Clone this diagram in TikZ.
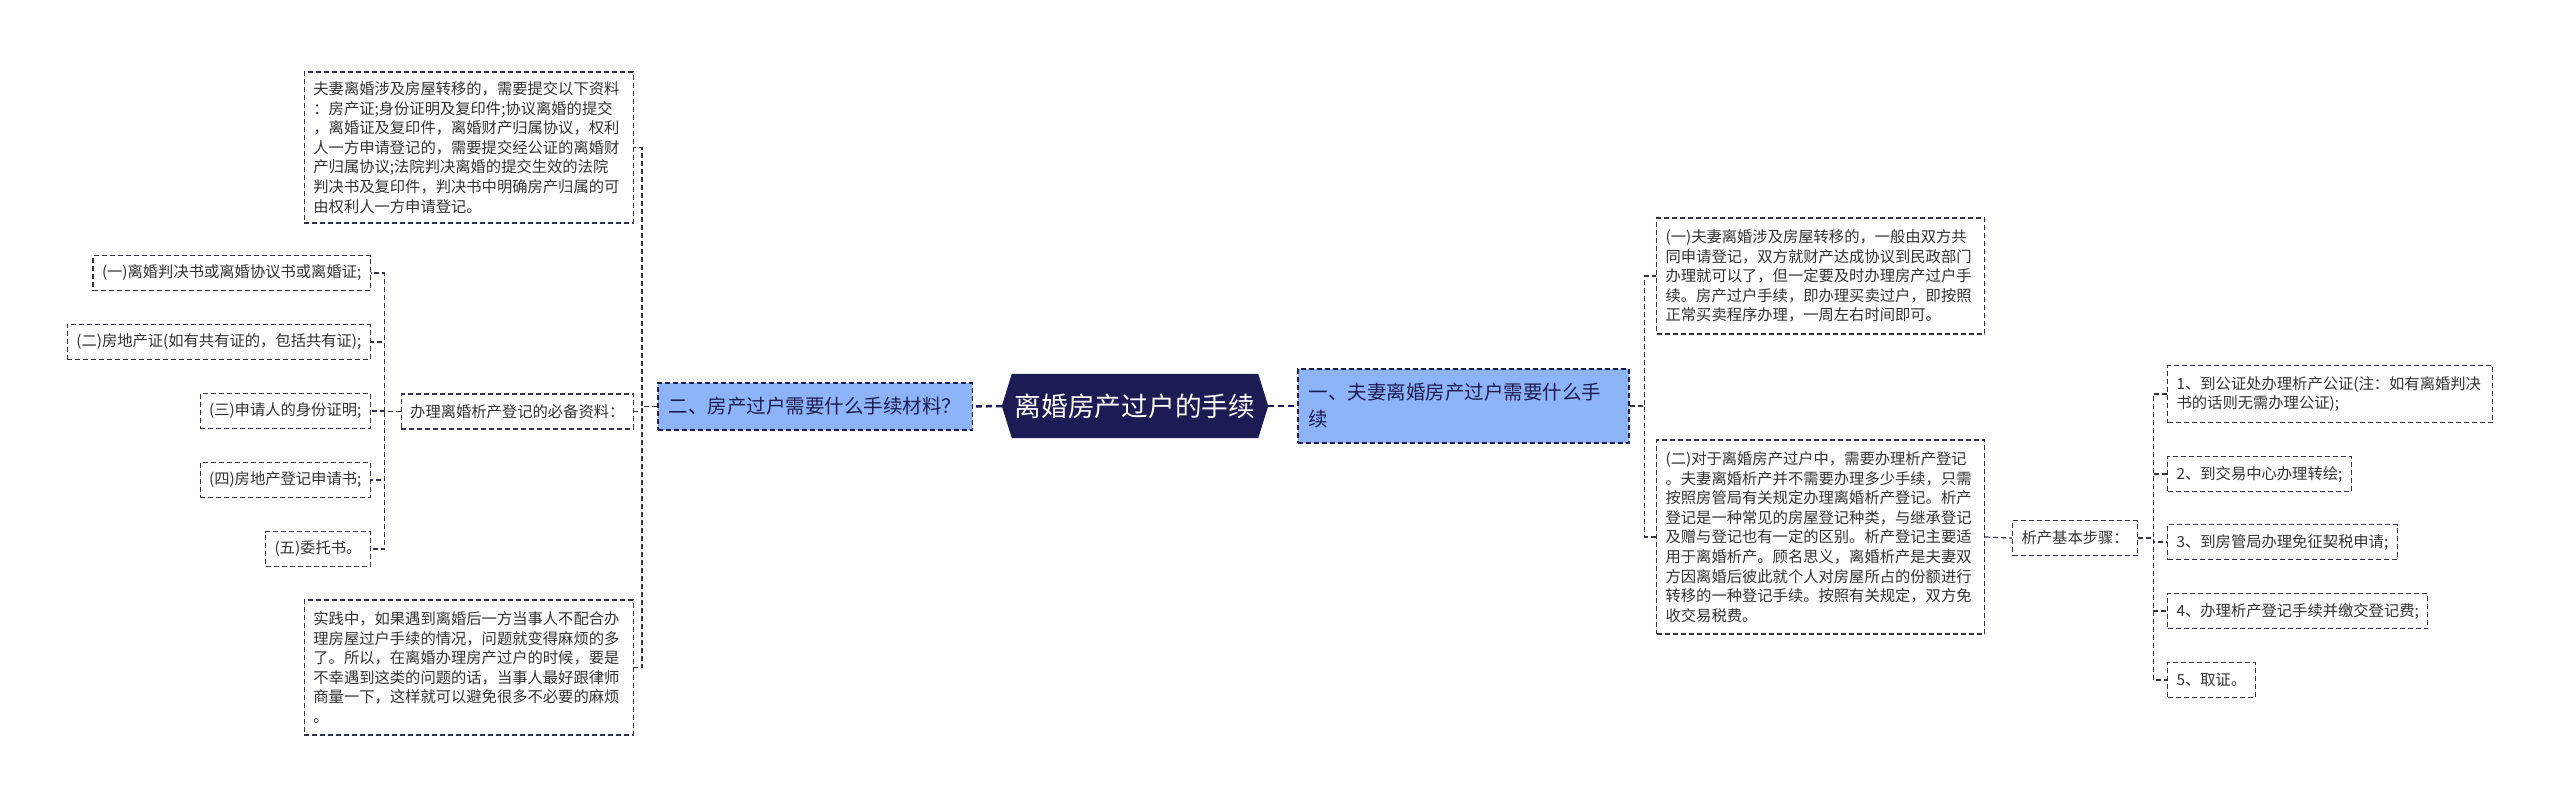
\documentclass[tikz,border=0pt]{standalone}
\usepackage{fontspec}
\setmainfont{Noto Sans CJK SC}
\usetikzlibrary{backgrounds}
\definecolor{navy}{RGB}{28,27,84}
\definecolor{lblue}{RGB}{141,180,247}
\definecolor{txt}{RGB}{51,51,51}
\definecolor{edge}{RGB}{50,50,70}
\begin{document}
\begin{tikzpicture}[x=1pt,y=-1pt,
 dsh/.style={dash pattern=on 5pt off 3pt},
 box/.style={draw=edge, dsh, line width=1.2pt, text=txt, font=\fontsize{15.3}{19.6}\selectfont, inner xsep=9pt, inner ysep=6pt, align=left, minimum height=35pt},
 lvl/.style={draw=navy, dsh, line width=1.5pt, fill=lblue, text=navy, font=\fontsize{19.5}{27}\selectfont, inner xsep=11pt, align=left},
 conn/.style={draw=edge, dsh, line width=1.2pt},
 mconn/.style={draw=navy, dash pattern=on 6pt off 4pt, line width=2.5pt},
]
\useasboundingbox (0,0) rectangle (2560,803);

% central node
\node[minimum width=266pt, minimum height=64pt, inner sep=0pt, text=white, font=\fontsize{26.7}{30}\selectfont] (C) at (1135,406) {离婚房产过户的手续};
\begin{pgfonlayer}{background}
\fill[navy] (C.west) -- ([xshift=10pt]C.north west) -- ([xshift=-10pt]C.north east) -- (C.east) -- ([xshift=-10pt]C.south east) -- ([xshift=10pt]C.south west) -- cycle;
\end{pgfonlayer}

% level 1
\node[lvl, anchor=east, minimum height=47pt] (L1) at (973,406.5) {二、房产过户需要什么手续材料？};
\node[lvl, anchor=west, text width=309pt, minimum height=74pt] (R1) at (1297,406) {一、夫妻离婚房产过户需要什么手\\续};

% left branch
\node[box, anchor=east, text width=311pt, minimum height=151pt] (TL) at (634,147.5) {夫妻离婚涉及房屋转移的，需要提交以下资料\\：房产证;身份证明及复印件;协议离婚的提交\\，离婚证及复印件，离婚财产归属协议，权利\\人一方申请登记的，需要提交经公证的离婚财\\产归属协议;法院判决离婚的提交生效的法院\\判决书及复印件，判决书中明确房产归属的可\\由权利人一方申请登记。};
\node[box, anchor=east] (M) at (634,411.5) {办理离婚析产登记的必备资料：};
\node[box, anchor=east, text width=311pt, minimum height=135pt] (BL) at (634,667.5) {实践中，如果遇到离婚后一方当事人不配合办\\理房屋过户手续的情况，问题就变得麻烦的多\\了。所以，在离婚办理房产过户的时候，要是\\不幸遇到这类的问题的话，当事人最好跟律师\\商量一下，这样就可以避免很多不必要的麻烦\\。};

\node[box, anchor=east] (La) at (371,273) {(一)离婚判决书或离婚协议书或离婚证;};
\node[box, anchor=east] (Lb) at (371,342) {(二)房地产证(如有共有证的，包括共有证);};
\node[box, anchor=east] (Lc) at (371,411) {(三)申请人的身份证明;};
\node[box, anchor=east] (Ld) at (371,480) {(四)房地产登记申请书;};
\node[box, anchor=east] (Le) at (371,549) {(五)委托书。};

% right branch
\node[box, anchor=west, text width=310pt, minimum height=116pt] (RA) at (1656,276) {(一)夫妻离婚涉及房屋转移的，一般由双方共\\同申请登记，双方就财产达成协议到民政部门\\办理就可以了，但一定要及时办理房产过户手\\续。房产过户手续，即办理买卖过户，即按照\\正常买卖程序办理，一周左右时间即可。};
\node[box, anchor=west, text width=310pt, minimum height=194pt] (RB) at (1656,537) {(二)对于离婚房产过户中，需要办理析产登记\\。夫妻离婚析产并不需要办理多少手续，只需\\按照房管局有关规定办理离婚析产登记。析产\\登记是一种常见的房屋登记种类，与继承登记\\及赠与登记也有一定的区别。析产登记主要适\\用于离婚析产。顾名思义，离婚析产是夫妻双\\方因离婚后彼此就个人对房屋所占的份额进行\\转移的一种登记手续。按照有关规定，双方免\\收交易税费。};
\node[box, anchor=west] (S) at (2012,538) {析产基本步骤：};

\node[box, anchor=west, text width=307pt, minimum height=57pt] (T1) at (2167,394) {1、到公证处办理析产公证(注：如有离婚判决\\书的话则无需办理公证);};
\node[box, anchor=west] (T2) at (2167,474) {2、到交易中心办理转绘;};
\node[box, anchor=west] (T3) at (2167,542) {3、到房管局办理免征契税申请;};
\node[box, anchor=west] (T4) at (2167,611) {4、办理析产登记手续并缴交登记费;};
\node[box, anchor=west] (T5) at (2167,680) {5、取证。};

% connectors
\draw[mconn] (C.west) -- (L1.east);
\draw[mconn] (C.east) -- (R1.west);

\foreach \n in {TL,M,BL} \draw[conn] (L1.west) -- ++(-15,0) |- (\n.east);
\foreach \n in {La,Lb,Lc,Ld,Le} \draw[conn] (M.west) -- ++(-16,0) |- (\n.east);
\foreach \n in {RA,RB} \draw[conn] (R1.east) -- ++(15,0) |- (\n.west);
\draw[conn] (RB.east) -- (S.west);
\foreach \n in {T1,T2,T3,T4,T5} \draw[conn] (S.east) -- ++(15,0) |- (\n.west);
\end{tikzpicture}
\end{document}
